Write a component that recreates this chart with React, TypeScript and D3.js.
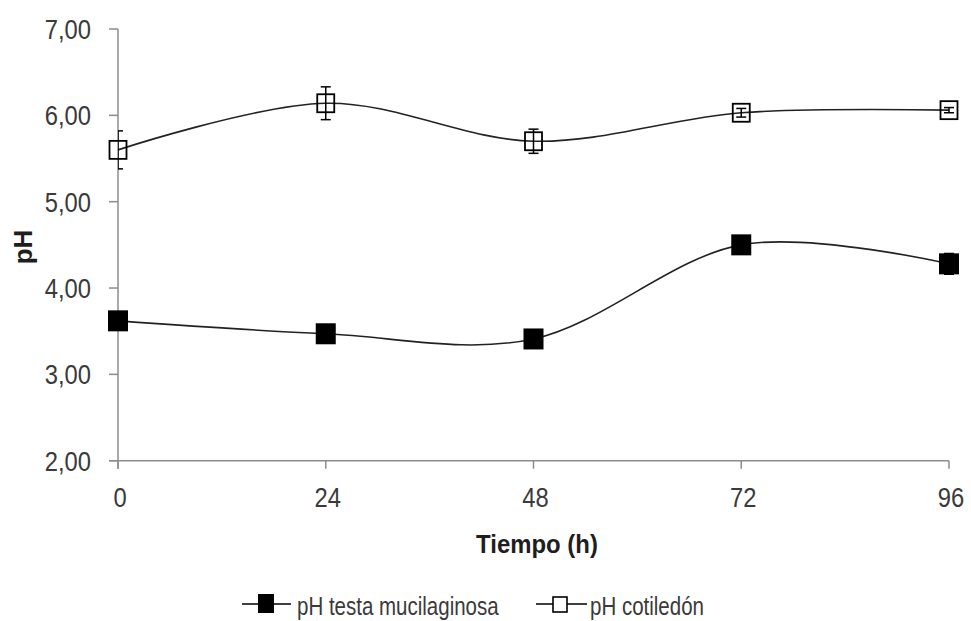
import React from "react";
import * as d3 from "d3";

const hours = [0, 24, 48, 72, 96];
const testa = [3.62, 3.47, 3.41, 4.5, 4.28];
const testaErr = [0.05, 0.04, 0.04, 0.05, 0.12];
const cotiledon = [5.6, 6.14, 5.7, 6.03, 6.06];
const cotiledonErr = [0.22, 0.19, 0.14, 0.05, 0.03];
const yTicks = [2, 3, 4, 5, 6, 7];
const seriesNames = ["pH testa mucilaginosa", "pH cotiledón"];

const W = 971, H = 621;
const FONT = "'Liberation Sans', Arial, sans-serif";

export default function App() {
  const x = d3.scaleLinear().domain([0, 96]).range([118, 949]);
  const y = d3.scaleLinear().domain([2, 7]).range([460.7, 29]);
  const line = d3.line<number>()
    .x((_, i) => x(hours[i]))
    .y((d) => y(d))
    .curve(d3.curveCardinal.tension(0));
  const fmt = (v: number) => v.toFixed(2).replace(".", ",");
  const axisColor = "#8c8c8c";
  const textColor = "#3a3a3a";
  const series = [
    { vals: testa, err: testaErr, filled: true },
    { vals: cotiledon, err: cotiledonErr, filled: false },
  ];
  const legend = [
    { x0: 242, x1: 291, cx: 266, tx: 297, filled: true },
    { x0: 536, x1: 587, cx: 560, tx: 590, filled: false },
  ];
  return (
    <svg width={W} height={H} style={{ position: "absolute", left: 0, top: 0, background: "#fff" }} fontFamily={FONT}>
      <defs>
        <clipPath id="plotclip">
          <rect x={x(0)} y={0} width={W - x(0)} height={y(2) + 5} />
        </clipPath>
      </defs>
      <rect width={W} height={H} fill="#fff" />
      {/* y axis */}
      <line x1={x(0)} x2={x(0)} y1={y(7)} y2={y(2) + 8} stroke={axisColor} strokeWidth={1.5} />
      {yTicks.map((t) => (
        <g key={t}>
          <line x1={x(0) - 9} x2={x(0)} y1={y(t)} y2={y(t)} stroke={axisColor} strokeWidth={1.5} />
          <text transform={`translate(91,${y(t) + 10}) scale(0.88,1)`} textAnchor="end" fontSize={27} fill={textColor}>{fmt(t)}</text>
        </g>
      ))}
      {/* x axis */}
      <line x1={x(0) - 9} x2={x(96)} y1={y(2)} y2={y(2)} stroke={axisColor} strokeWidth={1.5} />
      {hours.map((h) => (
        <g key={h}>
          <line x1={x(h)} x2={x(h)} y1={y(2)} y2={y(2) + 8} stroke={axisColor} strokeWidth={1.5} />
          <text transform={`translate(${x(h) + 2},507) scale(0.88,1)`} textAnchor="middle" fontSize={27} fill={textColor}>{h}</text>
        </g>
      ))}
      <text transform="translate(537,553) scale(0.92,1)" textAnchor="middle" fontSize={26} fontWeight="bold" fill="#1e1e1e">Tiempo  (h)</text>
      <text transform={`translate(32,247) rotate(-90)`} textAnchor="middle" fontSize={26} fontWeight="bold" fill="#1e1e1e">pH</text>
      {series.map((s, si) => (
        <g key={si}>
          <path d={line(s.vals) || ""} fill="none" stroke="#222" strokeWidth={1.6} />
          <g clipPath="url(#plotclip)">
            {s.vals.map((v, i) => (
              <g key={i}>
                <line x1={x(hours[i])} x2={x(hours[i])} y1={y(v + s.err[i])} y2={y(v - s.err[i])} stroke="#000" strokeWidth={1.5} />
                <line x1={x(hours[i]) - 5} x2={x(hours[i]) + 5} y1={y(v + s.err[i])} y2={y(v + s.err[i])} stroke="#000" strokeWidth={1.5} />
                <line x1={x(hours[i]) - 5} x2={x(hours[i]) + 5} y1={y(v - s.err[i])} y2={y(v - s.err[i])} stroke="#000" strokeWidth={1.5} />
              </g>
            ))}
          </g>
          {s.vals.map((v, i) =>
            s.filled ? (
              <rect key={i} x={x(hours[i]) - 10} y={y(v) - 10.5} width={20} height={21} fill="#000" />
            ) : (
              <rect key={i} x={x(hours[i]) - 8.5} y={y(v) - 9} width={17} height={18} fill="none" stroke="#000" strokeWidth={1.8} />
            )
          )}
        </g>
      ))}
      {/* legend */}
      {legend.map((l, i) => (
        <g key={i}>
          <line x1={l.x0} x2={l.x1} y1={604} y2={604} stroke="#000" strokeWidth={1.6} />
          {l.filled ? (
            <rect x={l.cx - 8} y={594} width={16} height={19} fill="#000" />
          ) : (
            <rect x={l.cx - 7} y={597} width={14} height={15} fill="#fff" stroke="#000" strokeWidth={1.6} />
          )}
          <text transform={`translate(${l.tx},615) scale(0.82,1)`} fontSize={25} fill={textColor}>{seriesNames[i]}</text>
        </g>
      ))}
    </svg>
  );
}
